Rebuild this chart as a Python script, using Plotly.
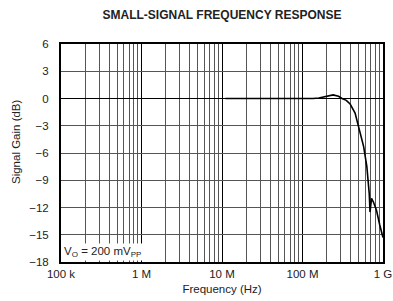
import plotly.graph_objects as go

freq_hz = [1.1e7, 1.5e7, 2.0e7, 2.5e7, 3.0e7, 4.0e7, 5.0e7, 6.0e7, 8.0e7, 1.0e8, 1.2e8, 1.35e8,
           1.6e8, 2.0e8, 2.4e8, 2.8e8, 3.1e8, 3.5e8, 3.9e8, 4.5e8, 5.1e8, 5.75e8, 6.3e8,
           6.55e8, 6.75e8, 6.9e8, 7.2e8, 7.6e8, 8.3e8, 9.1e8, 1.0e9]
gain_db = [0.0, 0.0, -0.05, 0.0, -0.05, 0.0, -0.05, 0.0, 0.0, 0.0, 0.0, 0.0,
           0.05, 0.25, 0.4, 0.25, 0.0, -0.2, -0.6, -1.6, -3.5, -5.3, -7.5,
           -9.0, -10.5, -12.5, -11.0, -11.4, -12.3, -13.9, -15.3]

y_ticks = [6, 3, 0, -3, -6, -9, -12, -15, -18]
x_tickvals = [1e5, 1e6, 1e7, 1e8, 1e9]
x_ticktext = ["100 k", "1 M", "10 M", "100 M", "1 G"]

FONT = "Liberation Sans, Arial, sans-serif"
W, H = 393, 301
L, R, T, B = 61, 10, 44, 39
PW, PH = W - L - R, H - T - B

fig = go.Figure()
fig.add_trace(go.Scatter(x=freq_hz, y=gain_db, mode="lines",
                         line=dict(color="black", width=1.6), showlegend=False))

fig.update_layout(
    width=W, height=H,
    margin=dict(l=L, r=R, t=T, b=B, autoexpand=False),
    paper_bgcolor="white", plot_bgcolor="white",
    font=dict(family=FONT, size=11, color="#222"),
    title=dict(text="<b>SMALL-SIGNAL FREQUENCY RESPONSE</b>", x=222 / W, xanchor="center",
               y=1 - 15 / H, yanchor="middle", font=dict(size=12, family=FONT, color="#222")),
    showlegend=False,
)
fig.update_xaxes(
    type="log", range=[5, 9], tickvals=x_tickvals, ticktext=x_ticktext,
    showgrid=True, gridcolor="black", gridwidth=1.3,
    minor=dict(dtick="D1", showgrid=True, gridcolor="#555", gridwidth=1, ticks=""),
    showline=True, linecolor="black", linewidth=2, mirror=True,
    ticks="", ticklen=0, tickfont=dict(size=11.5, family=FONT),
    title=dict(text="Frequency (Hz)", font=dict(size=11.5, family=FONT), standoff=6),
    zeroline=False, automargin=False,
)
fig.update_yaxes(
    range=[-18, 6], tickvals=y_ticks,
    showgrid=True, gridcolor="#555", gridwidth=1,
    showline=True, linecolor="black", linewidth=2, mirror=True,
    ticks="", tickfont=dict(size=11.5, family=FONT), ticklabelstandoff=8,
    zeroline=True, zerolinecolor="black", zerolinewidth=1.3, automargin=False,
)
fig.add_annotation(
    x=(16 - L) / PW, y=(H - B - 142) / PH, xref="paper", yref="paper",
    xanchor="center", yanchor="middle",
    text="Signal Gain (dB)", textangle=-90, showarrow=False,
    font=dict(size=11.5, family=FONT, color="#222"),
)
fig.add_annotation(
    x=0.004, y=0.003, xref="paper", yref="paper", xanchor="left", yanchor="bottom",
    text="V<sub>O</sub> = 200 mV<sub>PP</sub>", showarrow=False,
    bgcolor="white", borderpad=1, font=dict(size=11.5, family=FONT, color="#222"),
)

fig.write_html("out.html", config={"displayModeBar": False},
               post_script="document.body.style.margin='0';")
